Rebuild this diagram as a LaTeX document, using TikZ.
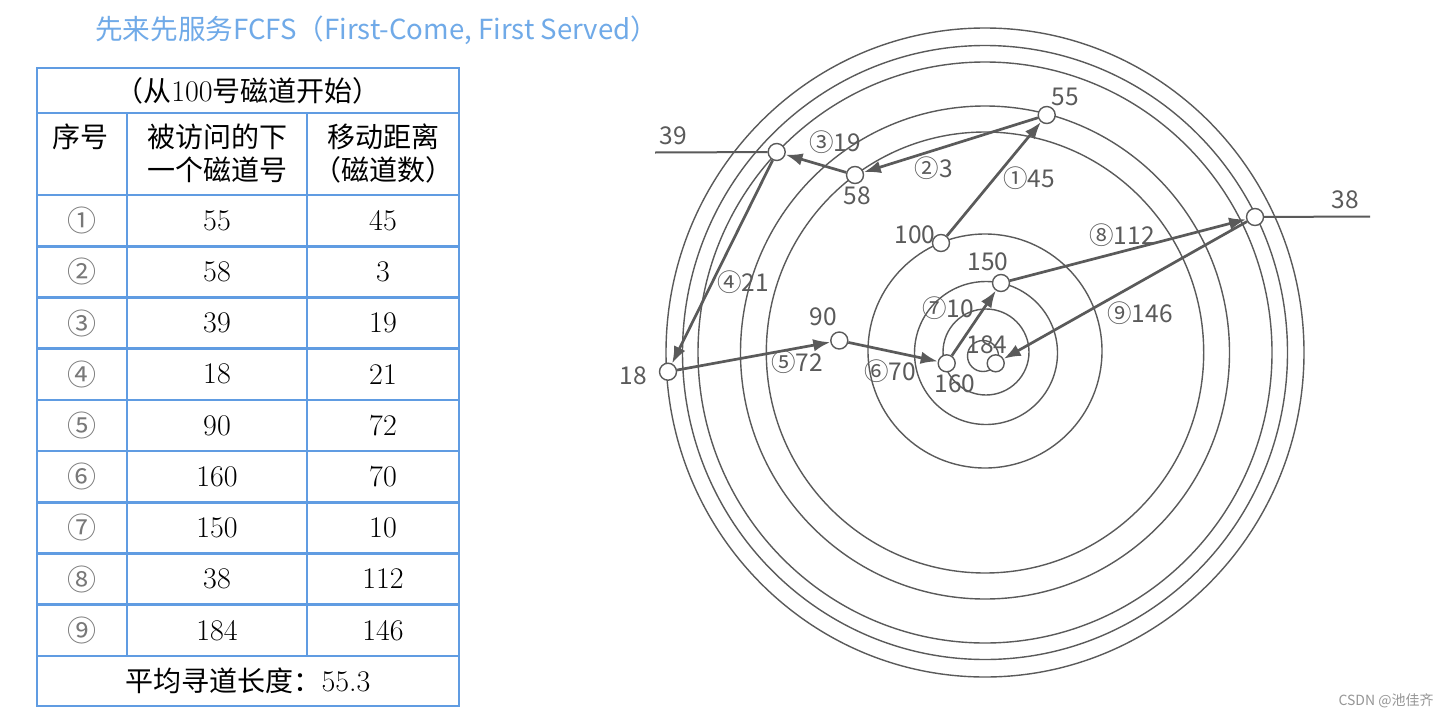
\documentclass[tikz,border=0pt]{standalone}
\usepackage{fontspec}
\newfontfamily\cjk{Noto Sans CJK SC}
\usetikzlibrary{arrows.meta}
\definecolor{tblblue}{RGB}{96,156,226}
\definecolor{ttlblue}{RGB}{112,170,232}
\definecolor{dgray}{RGB}{90,90,90}
\definecolor{cgray}{RGB}{120,120,120}
\definecolor{wmgray}{RGB}{150,150,150}
\begin{document}
\begin{tikzpicture}[x=1pt,y=-1pt,
  tline/.style={draw=tblblue,line width=2.6pt},
  trk/.style={draw=dgray,line width=1.4pt},
  pt/.style={circle,draw=dgray,fill=white,line width=1.4pt,minimum size=17pt,inner sep=0pt},
  lbl/.style={font=\cjk\fontsize{24.5}{24.5}\selectfont,text=dgray,inner sep=0pt},
  arr/.style={draw=dgray,line width=2.7pt,-{Latex[length=17pt,width=12.5pt]}},
  guide/.style={draw=dgray,line width=2pt},
  cell/.style={font=\fontsize{30}{30}\selectfont,inner sep=0pt},
  ccell/.style={font=\cjk\fontsize{28}{33}\selectfont,inner sep=0pt,align=center},
  num/.style={font=\cjk\fontsize{29}{29}\selectfont,text=cgray,inner sep=0pt}]

\fill[white] (0,0) rectangle (1448,718);
\useasboundingbox (0,0) rectangle (1448,718);

% title
\node[anchor=west,inner sep=0pt,text=ttlblue,font=\cjk\fontsize{27.6}{27.6}\selectfont] (title) at (95,30) {先来先服务FCFS（First-Come, First Served）};

% table grid
\draw[tline] (37,68) rectangle (459,706);
\foreach \y in {113,195,246.2,297.4,348.6,399.8,451,502.2,553.4,604.6,655.8}
  \draw[tline] (37,\y) -- (459,\y);
\draw[tline] (127,113) -- (127,655.8);
\draw[tline] (307,113) -- (307,655.8);

% table header
\node[ccell] (h0) at (248,91) {（从{\fontsize{30}{30}\selectfont\rmfamily 100}号磁道开始）};
\node[ccell] (h1) at (80,137) {序号};
\node[ccell] (h2) at (217,153) {被访问的下\\一个磁道号};
\node[ccell] (h3) at (383,153) {移动距离\\（磁道数）};

% table rows
\foreach \c/\a/\b [count=\k] in {①/55/45,②/58/3,③/39/19,④/18/21,⑤/90/72,⑥/160/70,⑦/150/10,⑧/38/112,⑨/184/146}{
  \node[num]  (c\k) at (82,{195+51.2*(\k-0.5)}) {\c};
  \node[cell] (a\k) at (217,{195+51.2*(\k-0.5)}) {\a};
  \node[cell] (b\k) at (383,{195+51.2*(\k-0.5)}) {\b};
}
\node[ccell] (foot) at (248,681) {平均寻道长度：{\fontsize{30}{30}\selectfont\rmfamily 55.3}};

% tracks
\draw[trk] (985,352.5) ellipse [x radius=319, y radius=324.5];
\draw[trk] (985,352.5) ellipse [x radius=302.5, y radius=307];
\draw[trk] (985,352.5) ellipse [x radius=287, y radius=290.5];
\draw[trk] (985,352.5) ellipse [x radius=244.5, y radius=246.5];
\draw[trk] (985,352.5) ellipse [x radius=218.7, y radius=220.5];
\draw[trk] (985,351) circle [radius=117];
\draw[trk] (986,353) circle [radius=71.5];
\draw[trk] (986,352) circle [radius=43];
\draw[trk] (983,356) circle [radius=15.5];

% track points
\node[pt] (n55)  at (1046.7,115) {};
\node[pt] (n58)  at (855,175) {};
\node[pt] (n39)  at (776.7,152) {};
\node[pt] (n18)  at (668,371.7) {};
\node[pt] (n90)  at (839.3,340.5) {};
\node[pt] (n100) at (941,243) {};
\node[pt] (n150) at (1001,283) {};
\node[pt] (n160) at (946.7,363.3) {};
\node[pt] (n184) at (995.7,363.3) {};
\node[pt] (n38)  at (1255,217) {};

% guide lines
\coordinate (e39) at (655,152.5);
\coordinate (e38) at (1370,216.5);
\draw[guide] (e39) -- (n39);
\draw[guide] (n38) -- (e38);

% arrows
\draw[arr] (n100) -- (n55);
\draw[arr] (n55) -- (n58);
\draw[arr] (n58) -- (n39);
\draw[arr] (n39) -- (n18);
\draw[arr] (n18) -- (n90);
\draw[arr] (n90) -- (n160);
\draw[arr] (n160) -- (n150);
\draw[arr] (n150) -- (n38);
\draw[arr] (n38) -- (n184);

% point labels
\node[lbl] (t55)  at (1065,97) {55};
\node[lbl] (t39)  at (673,136) {39};
\node[lbl] (t58)  at (857,196) {58};
\node[lbl] (t100) at (915,235) {100};
\node[lbl] (t150) at (988,262) {150};
\node[lbl] (t90)  at (823,317) {90};
\node[lbl] (t18)  at (633,376) {18};
\node[lbl] (t160) at (955,384) {160};
\node[lbl] (t184) at (987,345) {184};
\node[lbl] (t38)  at (1345,200) {38};

% move labels
\node[lbl] (m1) at (1029,178) {①45};
\node[lbl] (m2) at (934,168) {②3};
\node[lbl] (m3) at (835,142) {③19};
\node[lbl] (m4) at (743,282) {④21};
\node[lbl] (m5) at (797,362) {⑤72};
\node[lbl] (m6) at (890,371) {⑥70};
\node[lbl] (m7) at (948,308) {⑦10};
\node[lbl] (m8) at (1122,235) {⑧112};
\node[lbl] (m9) at (1140,313) {⑨146};

% watermark
\node[font=\cjk\fontsize{14}{14}\selectfont,text=wmgray,inner sep=0pt] (wm) at (1386,701) {CSDN @池佳齐};
\end{tikzpicture}
\end{document}
